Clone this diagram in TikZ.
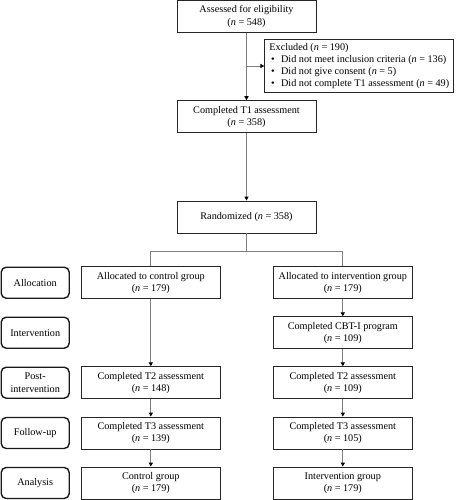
\documentclass[tikz,border=0pt]{standalone}
\usepackage{fontspec}
\setmainfont{Liberation Serif}
\usetikzlibrary{arrows.meta,positioning}
\newcommand{\bulitem}{\makebox[11.7pt][l]{\hspace{1.7pt}•}}
\begin{document}
\begin{tikzpicture}[x=1pt,y=-1pt,
  every node/.style={font=\fontsize{10.2pt}{12.3pt}\selectfont},
  flowbox/.style={draw=black!85, line width=0.9pt, minimum width=139pt, minimum height=32pt, inner sep=2pt, align=center},
  stagebox/.style={draw=black!90, line width=1.4pt, rounded corners=5pt, minimum width=68pt, minimum height=31pt, inner sep=2pt, align=center},
  conn/.style={draw=black!50, line width=0.9pt},
  arr/.style={conn, -{Triangle[length=4pt,width=4.2pt,color=black]}}]
\useasboundingbox (0,0) rectangle (455,500);
\fill[white] (0,0) rectangle (455,500);

\node[flowbox] (top) at (246.5,16.5) {Assessed for eligibility\\(\textit{n} = 548)};
\node[draw=black!85, line width=0.9pt, minimum width=189pt, minimum height=53pt, inner sep=1pt, align=left] (excl) at (359.3,66)
 {Excluded (\textit{n} = 190)\\
  \bulitem Did not meet inclusion criteria (\textit{n} = 136)\\
  \bulitem Did not give consent (\textit{n} = 5)\\
  \bulitem Did not complete T1 assessment (\textit{n} = 49)};
\node[flowbox] (t1) at (246.5,116.7) {Completed T1 assessment\\(\textit{n} = 358)};
\node[flowbox] (rand) at (246.5,217) {Randomized (\textit{n} = 358)};

\node[flowbox] (ctrl) at (150.8,282.7) {Allocated to control group\\(\textit{n} = 179)};
\node[flowbox] (intv) at (342.8,282.7) {Allocated to intervention group\\(\textit{n} = 179)};
\node[flowbox] (cbt) at (342.8,332.7) {Completed CBT-I program\\(\textit{n} = 109)};
\node[flowbox] (ct2) at (150.8,382.7) {Completed T2 assessment\\(\textit{n} = 148)};
\node[flowbox] (it2) at (342.8,382.7) {Completed T2 assessment\\(\textit{n} = 109)};
\node[flowbox] (ct3) at (150.8,433) {Completed T3 assessment\\(\textit{n} = 139)};
\node[flowbox] (it3) at (342.8,433) {Completed T3 assessment\\(\textit{n} = 105)};
\node[flowbox] (can) at (150.8,483) {Control group\\(\textit{n} = 179)};
\node[flowbox] (ian) at (342.8,483) {Intervention group\\(\textit{n} = 179)};

\node[stagebox] (sa) at (35.2,282.7) {Allocation};
\node[stagebox] (si) at (35.2,332.7) {Intervention};
\node[stagebox] (sp) at (35.2,382.7) {Post-\\intervention};
\node[stagebox] (sf) at (35.2,433) {Follow-up};
\node[stagebox] (sn) at (35.2,483) {Analysis};

\coordinate (br) at (top.south |- excl.west);
\coordinate (split) at (246.5,251.5);
\coordinate (sl) at (ctrl.north |- split);
\coordinate (sr) at (intv.north |- split);

\draw[arr] (top.south) -- (t1.north);
\draw[arr] (br) -- (excl.west);
\draw[arr] (t1.south) -- (rand.north);
\draw[conn] (rand.south) -- (split);
\draw[conn] (ctrl.north) -- (sl) -- (sr) -- (intv.north);
\draw[arr] (ctrl.south) -- (ct2.north);
\draw[arr] (intv.south) -- (cbt.north);
\draw[arr] (cbt.south) -- (it2.north);
\draw[arr] (ct2.south) -- (ct3.north);
\draw[arr] (it2.south) -- (it3.north);
\draw[arr] (ct3.south) -- (can.north);
\draw[arr] (it3.south) -- (ian.north);
\end{tikzpicture}
\end{document}
